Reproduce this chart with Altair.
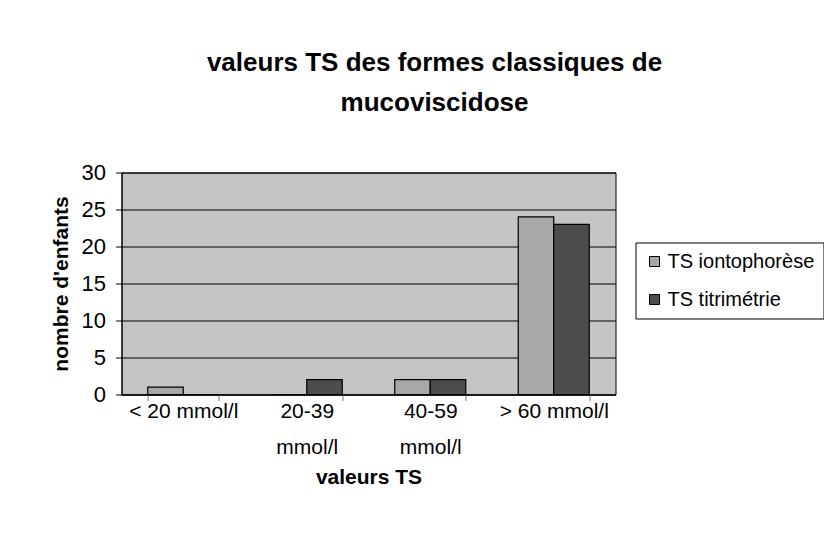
import altair as alt
import pandas as pd

categories = ["< 20 mmol/l", "20-39 mmol/l", "40-59 mmol/l", "> 60 mmol/l"]
series = ["TS iontophorèse", "TS titrimétrie"]
iontophorese = [1, 0, 2, 24]
titrimetrie = [0, 2, 2, 23]
y_ticks = [0, 5, 10, 15, 20, 25, 30]

rows = []
for c, a, b in zip(categories, iontophorese, titrimetrie):
    rows.append({"cat": c, "serie": series[0], "val": a})
    rows.append({"cat": c, "serie": series[1], "val": b})
df = pd.DataFrame(rows)

FONT = "Liberation Sans"

chart = alt.Chart(df).mark_bar(stroke="black", strokeWidth=1.2).encode(
    x=alt.X(
        "cat:N",
        sort=categories,
        title="valeurs TS",
        scale=alt.Scale(paddingInner=0.425, paddingOuter=0.2125),
        axis=alt.Axis(
            tickBand="extent",
            labelAngle=0,
            labelFont=FONT,
            labelFontSize=21,
            labelColor="black",
            labelPadding=0,
            labelLineHeight=36,
            labelExpr="indexof(datum.label, '-') > 0 ? split(datum.label, ' ') : datum.label",
            titleFont=FONT,
            titleFontSize=21,
            titleFontWeight="bold",
            titleColor="black",
            titlePadding=9,
            domainColor="black",
            tickColor="#777777",
            tickSize=6,
            grid=False,
        ),
    ),
    xOffset=alt.XOffset("serie:N", sort=series, scale=alt.Scale(paddingInner=0, paddingOuter=0)),
    y=alt.Y(
        "val:Q",
        title="nombre d'enfants",
        scale=alt.Scale(domain=[0, 30], nice=False),
        axis=alt.Axis(
            values=y_ticks,
            labelFont=FONT,
            labelFontSize=22,
            labelColor="black",
            labelPadding=10,
            titleFont=FONT,
            titleFontSize=21,
            titleFontWeight="bold",
            titleColor="black",
            titlePadding=10,
            domainColor="black",
            tickColor="black",
            tickSize=6,
            grid=True,
            gridColor="black",
            gridWidth=1,
        ),
    ),
    color=alt.Color(
        "serie:N",
        sort=series,
        scale=alt.Scale(domain=series, range=["#a8a8a8", "#4d4d4d"]),
        legend=alt.Legend(
            title=None,
            orient="none",
            legendX=514,
            legendY=70,
            symbolType="square",
            symbolSize=100,
            symbolStrokeColor="black",
            symbolStrokeWidth=1,
            labelFont=FONT,
            labelFontSize=20,
            labelColor="black",
            labelOffset=3,
            rowPadding=18,
            padding=9,
            strokeColor="black",
            fillColor="white",
        ),
    ),
).properties(
    width=494,
    height=222,
    title=alt.TitleParams(
        text=["valeurs TS des formes classiques de", "mucoviscidose"],
        font=FONT,
        fontSize=26,
        fontWeight="bold",
        color="black",
        anchor="middle",
        dx=66,
        lineHeight=40,
        offset=46,
    ),
    autosize=alt.AutoSizeParams(type="none"),
    padding={"left": 113.5, "top": 164.5, "right": 208, "bottom": 140},
).configure(
    background="white",
).configure_view(
    fill="#c4c4c4",
    stroke="black",
    strokeWidth=1,
)

chart.save("out.html", embed_options={"renderer": "svg", "actions": False})
